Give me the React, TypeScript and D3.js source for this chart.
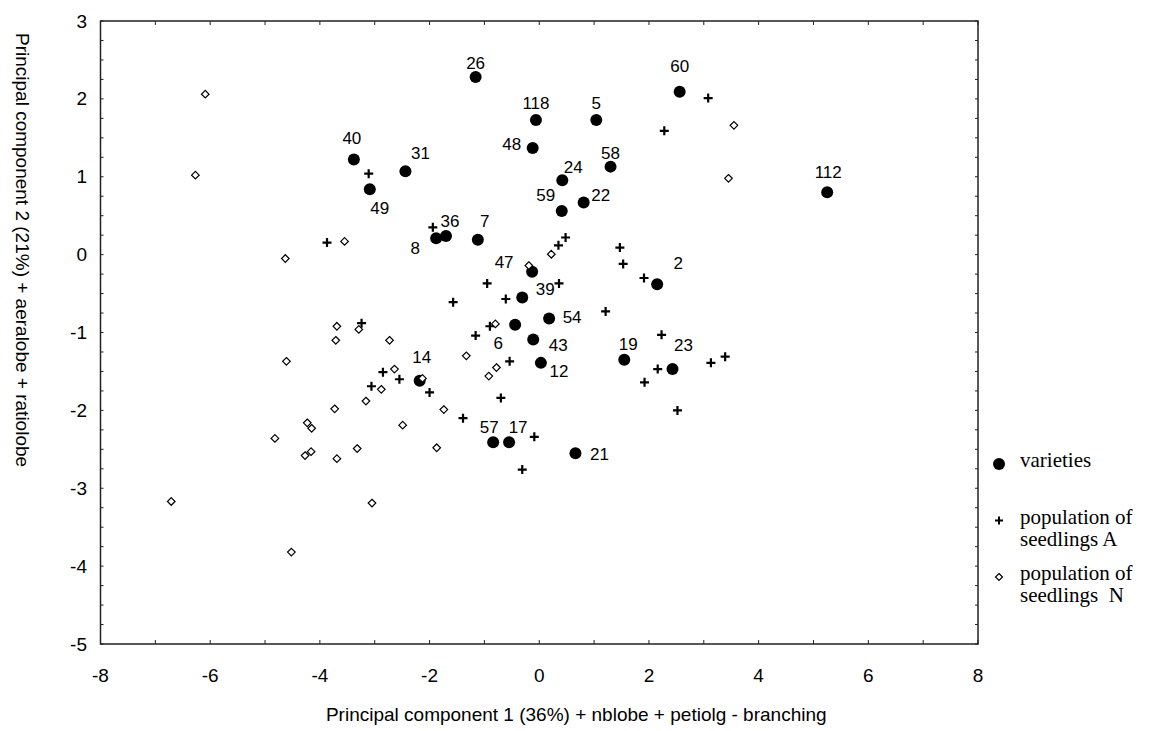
import React from "react";
import * as d3 from "d3";

// varieties (labelled dots): [label, PC1, PC2]
const varieties: [string, number, number][] = [
  ["26", -1.16, 2.28],
  ["118", -0.06, 1.73],
  ["5", 1.04, 1.73],
  ["60", 2.56, 2.09],
  ["48", -0.12, 1.37],
  ["40", -3.38, 1.22],
  ["31", -2.44, 1.07],
  ["49", -3.09, 0.84],
  ["58", 1.3, 1.13],
  ["24", 0.42, 0.955],
  ["112", 5.25, 0.8],
  ["22", 0.81, 0.67],
  ["59", 0.41, 0.56],
  ["36", -1.7, 0.24],
  ["8", -1.88, 0.21],
  ["7", -1.12, 0.19],
  ["47", -0.13, -0.22],
  ["2", 2.15, -0.38],
  ["39", -0.31, -0.55],
  ["54", 0.18, -0.82],
  ["6", -0.44, -0.9],
  ["43", -0.11, -1.09],
  ["12", 0.03, -1.39],
  ["14", -2.18, -1.62],
  ["19", 1.55, -1.35],
  ["23", 2.43, -1.47],
  ["57", -0.84, -2.41],
  ["17", -0.55, -2.41],
  ["21", 0.66, -2.55],
];

// population of seedlings A (+)
const seedlingsA: [number, number][] = [
  [-3.11, 1.04], [-1.94, 0.35], [-3.87, 0.155], [-0.95, -0.37], [-1.57, -0.61],
  [-0.61, -0.57], [-3.24, -0.88], [-1.16, -1.04], [-0.9, -0.92], [-0.54, -1.37],
  [-2.85, -1.51], [-2.55, -1.6], [-3.06, -1.69], [-2.0, -1.77], [-0.7, -1.84],
  [-1.39, -2.1], [-0.09, -2.34], [-0.31, -2.76], [3.08, 2.01], [2.28, 1.59],
  [0.48, 0.22], [0.35, 0.12], [1.47, 0.09], [1.53, -0.12], [1.91, -0.3],
  [0.36, -0.37], [1.21, -0.73], [2.23, -1.03], [2.16, -1.47], [1.92, -1.64],
  [3.13, -1.39], [3.39, -1.31], [2.52, -2.0],
];

// population of seedlings N (diamonds)
const seedlingsN: [number, number][] = [
  [-6.09, 2.06], [-6.27, 1.02], [3.55, 1.66], [3.45, 0.98], [-3.55, 0.17],
  [-4.63, -0.05], [-0.19, -0.14], [0.22, 0.005], [-3.69, -0.92], [-3.29, -0.96],
  [-3.71, -1.1], [-2.73, -1.1], [-4.61, -1.37], [-0.8, -0.89], [-1.33, -1.3],
  [-0.78, -1.45], [-0.92, -1.56], [-2.64, -1.47], [-2.88, -1.73], [-3.16, -1.88],
  [-3.73, -1.98], [-1.74, -1.99], [-2.49, -2.19], [-4.23, -2.16], [-4.15, -2.23],
  [-4.82, -2.36], [-3.32, -2.49], [-1.87, -2.48], [-4.27, -2.58], [-4.16, -2.53],
  [-3.69, -2.62], [-6.71, -3.17], [-3.05, -3.19], [-4.52, -3.82], [-2.13, -1.59],
];

const xTickLabels = [-8, -6, -4, -2, 0, 2, 4, 6, 8];
const yTickLabels = [3, 2, 1, 0, -1, -2, -3, -4, -5];

const legendItems = [
  { kind: "dot", lines: ["varieties"] },
  { kind: "plus", lines: ["population of", "seedlings A"] },
  { kind: "diamond", lines: ["population of", "seedlings  N"] },
];

// label placement around each dot (px offset of label centre)
const labelOffset: Record<string, [number, number]> = {
  "26": [0, -14], "118": [0, -16], "5": [0, -16], "60": [0, -25], "48": [-21, -3],
  "40": [-2, -21], "31": [15, -18], "49": [10, 19], "36": [4, -14], "8": [-21, 10],
  "7": [7, -18], "47": [-28, -9], "39": [23, -8], "58": [0, -13], "24": [11, -13],
  "59": [-16, -16], "22": [17, -7], "112": [1, -20], "2": [21, -21], "54": [23, -1],
  "43": [25, 6], "12": [18, 9], "19": [4, -15], "23": [11, -24], "21": [24, 1],
  "6": [-17, 19], "14": [2, -23], "57": [-4, -15], "17": [9, -15],
};

const sans = "Liberation Sans, Arial, sans-serif";
const serif = "Liberation Serif, Times New Roman, serif";

const plusPath = (s: number) => `M${-s},0H${s}M0,${-s}V${s}`;
const diamondPath = (s: number) => `M0,${-s}L${s},0L0,${s}L${-s},0Z`;

const App = () => {
  const width = 1152;
  const height = 731;
  const frame = { left: 100.5, right: 978, top: 21, bottom: 644 };

  const x = d3.scaleLinear().domain([-8, 8]).range([frame.left, frame.right]);
  const y = d3.scaleLinear().domain([-5, 3]).range([frame.bottom, frame.top]);

  const xMinor = d3.range(-8, 8.001, 1);
  const yMinor = d3.range(-5, 3.001, 0.25);

  return (
    <svg
      width={width}
      height={height}
      style={{ position: "absolute", left: 0, top: 0, background: "#fff" }}
    >
      <rect x={0} y={0} width={width} height={height} fill="#fff" />

      {/* ticks, inward on all four sides */}
      <g stroke="#222" strokeWidth={1}>
        {xMinor.map((v) => (
          <g key={"xt" + v}>
            <line x1={x(v)} x2={x(v)} y1={frame.bottom} y2={frame.bottom - 4} />
            <line x1={x(v)} x2={x(v)} y1={frame.top} y2={frame.top + 4} />
          </g>
        ))}
        {yMinor.map((v) => (
          <g key={"yt" + v}>
            <line x1={frame.left} x2={frame.left + 3} y1={y(v)} y2={y(v)} />
            <line x1={frame.right} x2={frame.right - 3} y1={y(v)} y2={y(v)} />
          </g>
        ))}
      </g>
      <rect
        x={frame.left}
        y={frame.top}
        width={frame.right - frame.left}
        height={frame.bottom - frame.top}
        fill="none"
        stroke="#222"
        strokeWidth={1.5}
      />

      {/* tick labels */}
      <g fontFamily={sans} fontSize={19} fill="#000">
        {xTickLabels.map((v) => (
          <text key={"xl" + v} x={x(v)} y={675} textAnchor="middle" dominantBaseline="central">
            {v}
          </text>
        ))}
        {yTickLabels.map((v) => (
          <text key={"yl" + v} x={87} y={y(v)} textAnchor="end" dominantBaseline="central">
            {v}
          </text>
        ))}
      </g>

      {/* axis titles */}
      <text
        x={(frame.left + frame.right) / 2 + 37}
        y={714}
        textAnchor="middle"
        dominantBaseline="central"
        fontFamily={sans}
        fontSize={19}
      >
        Principal component 1 (36%) + nblobe + petiolg - branching
      </text>
      <text
        transform={`translate(22, 33) rotate(90)`}
        textAnchor="start"
        dominantBaseline="central"
        fontFamily={sans}
        fontSize={19}
      >
        Principal component 2 (21%) + aeralobe + ratiolobe
      </text>

      {/* varieties */}
      <g fill="#000">
        {varieties.map(([id, vx, vy]) => (
          <circle key={"v" + id} cx={x(vx)} cy={y(vy)} r={6} />
        ))}
      </g>
      {/* seedlings A */}
      <g stroke="#000" strokeWidth={2.2} fill="none">
        {seedlingsA.map(([vx, vy], i) => (
          <path key={"a" + i} d={plusPath(4.5)} transform={`translate(${x(vx)},${y(vy)})`} />
        ))}
      </g>
      {/* seedlings N */}
      <g stroke="#000" strokeWidth={1.2} fill="#fff">
        {seedlingsN.map(([vx, vy], i) => (
          <path key={"n" + i} d={diamondPath(3.8)} transform={`translate(${x(vx)},${y(vy)})`} />
        ))}
      </g>

      {/* variety labels */}
      <g fontFamily={sans} fontSize={17} fill="#000">
        {varieties.map(([id, vx, vy]) => {
          const [dx, dy] = labelOffset[id] || [0, -15];
          return (
            <text
              key={"lab" + id}
              x={x(vx) + dx}
              y={y(vy) + dy}
              textAnchor="middle"
              dominantBaseline="central"
            >
              {id}
            </text>
          );
        })}
      </g>

      {/* legend */}
      <g fontFamily={serif} fontSize={21} fill="#000">
        {legendItems.map((item, i) => {
          const cy = 464 + i * 56.5;
          return (
            <g key={"lg" + i}>
              {item.kind === "dot" && <circle cx={999} cy={cy} r={6} />}
              {item.kind === "plus" && (
                <path d={plusPath(4)} transform={`translate(999,${cy})`} stroke="#000" strokeWidth={2} />
              )}
              {item.kind === "diamond" && (
                <path
                  d={diamondPath(3.5)}
                  transform={`translate(999,${cy})`}
                  stroke="#000"
                  strokeWidth={1.2}
                  fill="#fff"
                />
              )}
              {item.lines.map((ln, j) => (
                <text
                  key={j}
                  x={1020}
                  y={cy + 3 + j * 22}
                  style={{ whiteSpace: "pre" }}
                >
                  {ln}
                </text>
              ))}
            </g>
          );
        })}
      </g>
    </svg>
  );
};

export default App;
